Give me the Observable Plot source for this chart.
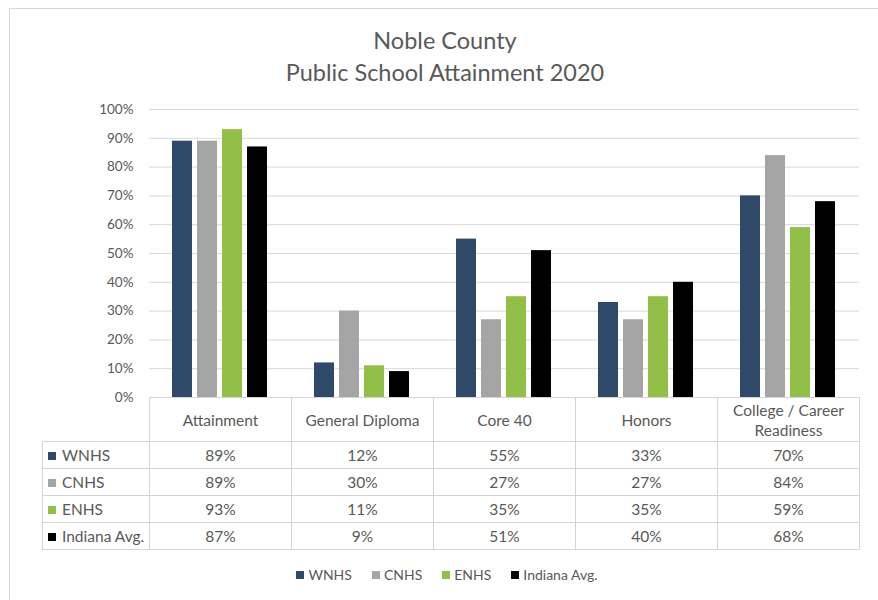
<!DOCTYPE html>
<html><head><meta charset="utf-8">
<script src="https://cdn.jsdelivr.net/npm/d3@7"></script>
<script src="https://cdn.jsdelivr.net/npm/@observablehq/plot@0.6"></script>
<style>
body{margin:0;background:#fff;font-family:Lato,"Open Sans",sans-serif;width:878px;height:600px;overflow:hidden;position:relative;}
#frame{position:absolute;left:9px;top:8px;width:900px;height:700px;border-left:1px solid #d9d9d9;border-top:1px solid #d9d9d9;}
#title{position:absolute;left:0;width:890px;top:24px;text-align:center;font-size:23.5px;color:#595959;line-height:32px}
#chart{position:absolute;left:0;top:90px}
table{position:absolute;left:42px;top:397px;border-collapse:collapse;table-layout:fixed;font-size:15.5px;color:#595959}
td{border:1px solid #d4d4d4;text-align:center;padding:0;height:26px;line-height:18px}
tr.head td{height:43px;line-height:20px}
tr.head td.blank{border-top:none;border-left:none}
td.lab{text-align:left;padding-left:5px;white-space:nowrap}
.sw{display:inline-block;width:8px;height:8px;margin-right:6px;vertical-align:1px}
#legend{position:absolute;left:0;width:894px;top:566px;text-align:center;font-size:14px;color:#595959}
#legend span.item{margin:0 10px;white-space:nowrap}
</style></head>
<body>
<div id="frame"></div>
<div id="title">Noble County<br>Public School Attainment 2020</div>
<div id="chart"></div>
<div id="tablewrap"></div>
<div id="legend"></div>
<script>
const categories = ["Attainment","General Diploma","Core 40","Honors","College / Career Readiness"];
const series = ["WNHS","CNHS","ENHS","Indiana Avg."];
const wnhs = [89,12,55,33,70];
const cnhs = [89,30,27,27,84];
const enhs = [93,11,35,35,59];
const indiana = [87,9,51,40,68];
const colors = ["#2f4a68","#a5a5a5","#92bf47","#000000"];
const yTicks = [0,10,20,30,40,50,60,70,80,90,100];

const values = [wnhs, cnhs, enhs, indiana];
const data = [];
categories.forEach((c,i)=>series.forEach((s,j)=>data.push({category:c, series:s, value:values[j][i]})));

const chart = Plot.plot({
  width: 878, height: 320,
  marginLeft: 149, marginRight: 19, marginTop: 19, marginBottom: 13,
  style: {fontFamily: "Lato, 'Open Sans', sans-serif", fontSize: "13.5px", color: "#595959", background: "transparent", overflow: "visible"},
  fx: {domain: categories, padding: 0, axis: null},
  x: {domain: series, paddingInner: 0.19, paddingOuter: 0.83, axis: null},
  y: {domain: [0,100]},
  color: {domain: series, range: colors},
  marks: [
    Plot.gridY(yTicks, {stroke: "#d9d9d9", strokeOpacity: 1, strokeWidth: 1}),
    Plot.axisY(yTicks, {tickSize: 0, tickPadding: 16, tickFormat: d => d + "%", label: null}),
    Plot.barY(data, {fx: "category", x: "series", y: "value", fill: "series"})
  ]
});
document.getElementById("chart").appendChild(chart);

// data table
const tbl = document.createElement("table");
let html = '<colgroup><col style="width:107px">' + categories.map(()=> '<col style="width:142px">').join("") + '</colgroup>';
html += '<tr class="head"><td class="blank"></td>' + categories.map(c => `<td>${c === "College / Career Readiness" ? "College / Career<br>Readiness" : c}</td>`).join("") + '</tr>';
series.forEach((s,j) => {
  html += `<tr><td class="lab"><span class="sw" style="background:${colors[j]}"></span>${s}</td>` +
    values[j].map(v => `<td>${v}%</td>`).join("") + '</tr>';
});
tbl.innerHTML = html;
document.getElementById("tablewrap").appendChild(tbl);

// legend
document.getElementById("legend").innerHTML = series.map((s,j) =>
  `<span class="item"><span class="sw" style="background:${colors[j]};margin-right:4px"></span>${s}</span>`).join("");
</script>
</body></html>
